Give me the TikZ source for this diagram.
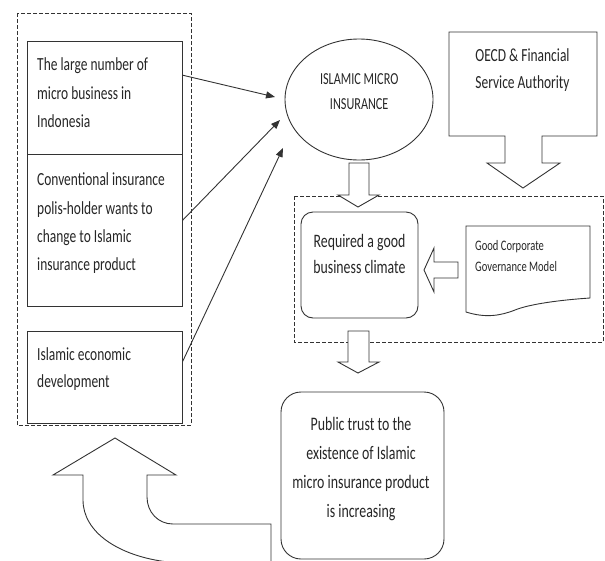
\documentclass[tikz,border=0pt]{standalone}
\usepackage{fontspec}
\setmainfont[FakeStretch=0.727]{Carlito}
\usetikzlibrary{arrows.meta,shapes.geometric}
\newcommand\tstr{\rule{0pt}{1em}}
\begin{document}
\begin{tikzpicture}[x=1pt,y=-1pt,
  ln/.style={draw=black!80, line width=0.9pt},
  box/.style={ln, rectangle, inner sep=0pt},
  rbox/.style={ln, rectangle, rounded corners=#1, inner sep=0pt},
  txt/.style={align=left, inner sep=0pt, anchor=north west, text=black!85},
  ctxt/.style={align=center, inner sep=0pt, anchor=north, text=black!85},
  arr/.style={ln, -{Triangle[length=9pt,width=7pt]}},
  dashbox/.style={draw=black!80, line width=0.8pt, dash pattern=on 4pt off 2pt},
  blk/.style={ln, fill=white, line join=miter}]
\useasboundingbox (0,0) rectangle (605,560);
\clip (0,0) rectangle (605,560);

% left group
\draw[dashbox] (17,13) rectangle (191,425);
\node[box, minimum width=155pt, minimum height=113pt] (b1) at (104.5,97.5) {};
\node[box, minimum width=155pt, minimum height=152pt] (b2) at (104.5,230) {};
\node[box, minimum width=155pt, minimum height=92pt] (b3) at (104.5,377) {};
\node[txt, font=\fontsize{18.5}{28.5}\selectfont] (t1) at (37,52.2) {\tstr The large number of\\micro business in\\Indonesia};
\node[txt, font=\fontsize{18.5}{28.3}\selectfont] (t2) at (37,167.2) {\tstr Conventional insurance\\polis-holder wants to\\change to Islamic\\insurance product};
\node[txt, font=\fontsize{18.5}{27}\selectfont] (t3) at (37,342.2) {\tstr Islamic economic\\development};

% ellipse
\node[ln, ellipse, minimum width=148pt, minimum height=121pt, inner sep=0pt] (ell) at (359,99.5) {};
\node[ctxt, font=\fontsize{16.8}{25.3}\selectfont] (et) at (359.2,67.2) {\tstr ISLAMIC MICRO\\INSURANCE};

% connectors
\coordinate (p1) at (275,97);
\coordinate (p2) at (280,120);
\coordinate (p3) at (283,148);
\draw[arr] (b1.16) -- (p1);
\draw[arr] (b2.7) -- (p2);
\draw[arr] (b3.11) -- (p3);

% OECD callout
\draw[blk] (449,32) -- (597,32) -- (597,136) -- (542,136) -- (542,163) -- (560,163)
  -- (523,188) -- (487,163) -- (505,163) -- (505,136) -- (449,136) -- cycle;
\node[ctxt, font=\fontsize{18.5}{27}\selectfont] (oecd) at (522.5,43) {\tstr OECD \& Financial\\Service Authority};

% dashed group 2
\draw[dashbox] (294,196) rectangle (603,342);
\node[rbox=12pt, minimum width=117pt, minimum height=106pt] (req) at (359.5,265) {};
\node[ctxt, font=\fontsize{19}{26}\selectfont] (reqt) at (359.5,228) {\tstr Required a good\\business climate};

% document
\draw[ln, fill=white] (466,226) -- (590,226) -- (590,298)
  .. controls (560,300) and (530,304) .. (515,310)
  .. controls (500,316) and (485,318) .. (466,312) -- cycle;
\node[txt, font=\fontsize{14.5}{21}\selectfont] (gcg) at (475,235.5) {\tstr Good Corporate\\Governance Model};

% small left arrow
\draw[blk] (458,262) -- (434,262) -- (434,248) -- (424,270) -- (434,292) -- (434,278) -- (458,278) -- cycle;

% down arrow from ellipse
\draw[blk] (349,163) -- (369,163) -- (369,195) -- (379,195) -- (358,207) -- (338,195) -- (349,195) -- cycle;
% down arrow from group 2
\draw[blk] (348,331) -- (369,331) -- (369,362) -- (379,362) -- (358,373) -- (338,362) -- (348,362) -- cycle;

% public trust
\node[rbox=20pt, minimum width=163pt, minimum height=167pt] (pub) at (362.5,475.5) {};
\node[ctxt, font=\fontsize{19.1}{29}\selectfont] (pubt) at (361,410.9) {\tstr Public trust to the\\existence of Islamic\\micro insurance product\\is increasing};

% big curved arrow
\draw[blk] (271,570) -- (271,524) -- (173,524) .. controls (158,524) and (147,512) .. (147,497)
  -- (147,475) -- (176,475) -- (115,438) -- (53,475) -- (83,475) -- (83,500)
  .. controls (83,532) and (118,556) .. (168,562) -- (168,570) -- cycle;
\end{tikzpicture}
\end{document}
